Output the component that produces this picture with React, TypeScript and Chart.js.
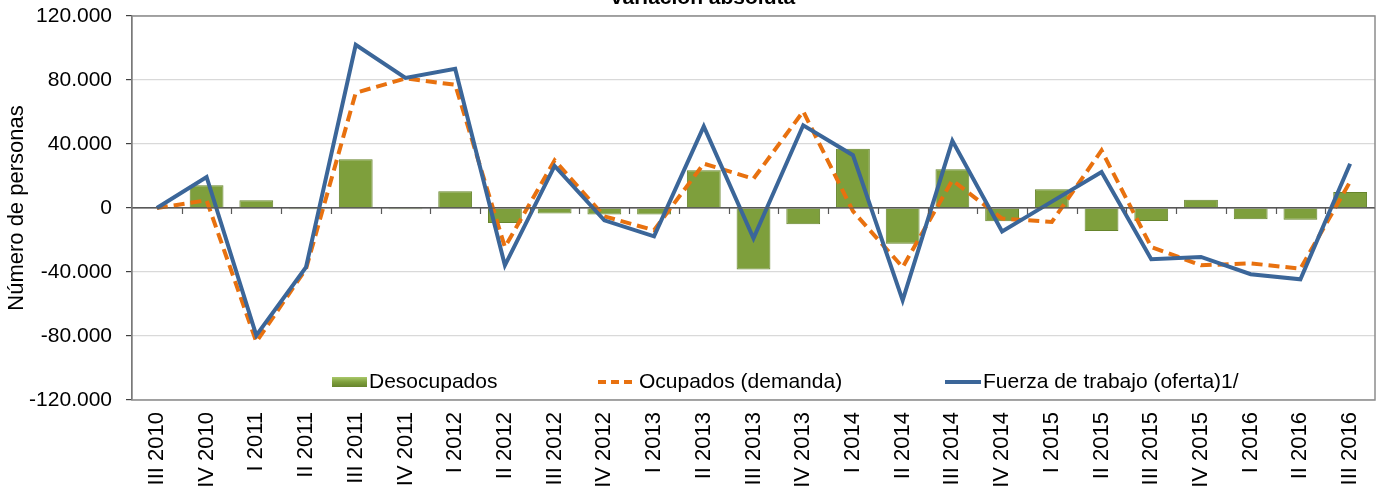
import React, { useEffect, useRef } from "react";
import { Chart, registerables } from "chart.js";

Chart.register(...registerables);

const categories = [
  "III 2010", "IV 2010", "I 2011", "II 2011", "III 2011", "IV 2011",
  "I 2012", "II 2012", "III 2012", "IV 2012", "I 2013", "II 2013",
  "III 2013", "IV 2013", "I 2014", "II 2014", "III 2014", "IV 2014",
  "I 2015", "II 2015", "III 2015", "IV 2015", "I 2016", "II 2016", "III 2016",
];

const desocupados = [
  0, 14200, 4800, -800, 30400, -800, 10400, -9400, -3500, -4000, -4000, 23600,
  -38500, -10200, 37000, -22300, 24200, -8300, 11700, -14400, -8100, 5200, -7100, -7300, 10000,
];

const ocupados = [
  0, 4800, -83700, -38000, 72000, 81000, 77000, -24400, 29800, -5200, -13900, 27700,
  18300, 60400, -2000, -37000, 17300, -6600, -8700, 36000, -24400, -35800, -34600, -37900, 16500,
];

const fuerzaTrabajo = [
  0, 19400, -79600, -37000, 102000, 81300, 87000, -35800, 26300, -7700, -17700, 51000,
  -19000, 51700, 33000, -57700, 42000, -14600, 4000, 22500, -32000, -30600, -41400, -44600, 27700,
];

const Y_MIN = -120000;
const Y_MAX = 120000;
const Y_STEP = 40000;

const seriesLabels = ["Desocupados", "Ocupados (demanda)", "Fuerza de trabajo (oferta)1/"];
const titleText = "variación absoluta";
const yTitle = "Número de personas";

const FONT = "'Liberation Sans', Arial, sans-serif";
const GREEN = "#7E9F3C";
const GREEN_DARK = "#66842C";
const ORANGE = "#E8710F";
const BLUE = "#3B6699";

function fmt(v: number): string {
  const s = Math.abs(v).toFixed(0);
  const withDots = s.replace(/\B(?=(\d{3})+(?!\d))/g, ".");
  return (v < 0 ? "-" : "") + withDots;
}

const framePlugin = {
  id: "frame",
  beforeDatasetsDraw(chart: any) {
    const { ctx, chartArea } = chart;
    ctx.save();
    ctx.strokeStyle = "#8C8C8C";
    ctx.lineWidth = 1.5;
    ctx.strokeRect(chartArea.left, chartArea.top, chartArea.right - chartArea.left, chartArea.bottom - chartArea.top);
    ctx.restore();
  },
  afterDatasetsDraw(chart: any) {
    const { ctx, chartArea, scales } = chart;
    const x = scales.x;
    const y = scales.y;
    const y0 = y.getPixelForValue(0);
    const n = chart.data.labels.length;
    const w = (chartArea.right - chartArea.left) / n;
    ctx.save();
    ctx.strokeStyle = "#595959";
    ctx.lineWidth = 1.2;
    ctx.beginPath();
    ctx.moveTo(chartArea.left, y0);
    ctx.lineTo(chartArea.right, y0);
    ctx.stroke();
    ctx.beginPath();
    for (let i = 1; i < n; i++) {
      const px = Math.round(x.left + i * w) + 0.5;
      ctx.moveTo(px, y0);
      ctx.lineTo(px, y0 + 6);
    }
    ctx.stroke();
    ctx.restore();
  },
  afterDraw(chart: any) {
    const { ctx } = chart;
    ctx.save();
    // title (partly cut off at the top, as in the reference)
    ctx.fillStyle = "#000";
    ctx.font = `bold 21px ${FONT}`;
    ctx.textAlign = "center";
    ctx.textBaseline = "alphabetic";
    ctx.fillText(titleText, 703, 4);

    // legend inside the plot area
    const ly = 382;
    ctx.font = `21px ${FONT}`;
    ctx.textAlign = "left";
    ctx.textBaseline = "middle";
    const labels = chart.data.datasets.map((d: any) => d.label);

    // bar swatch
    const g = ctx.createLinearGradient(0, ly - 5, 0, ly + 5);
    g.addColorStop(0, "#A9C86A");
    g.addColorStop(0.5, GREEN);
    g.addColorStop(1, GREEN_DARK);
    ctx.fillStyle = g;
    ctx.fillRect(332, ly - 5, 35, 10);
    ctx.fillStyle = "#000";
    ctx.fillText(labels[0], 369, ly);

    // dashed orange
    ctx.strokeStyle = ORANGE;
    ctx.lineWidth = 4;
    ctx.setLineDash([8, 5]);
    ctx.beginPath();
    ctx.moveTo(598, ly);
    ctx.lineTo(637, ly);
    ctx.stroke();
    ctx.setLineDash([]);
    ctx.fillText(labels[1], 639, ly);

    // solid blue
    ctx.strokeStyle = BLUE;
    ctx.beginPath();
    ctx.moveTo(945, ly);
    ctx.lineTo(981, ly);
    ctx.stroke();
    ctx.fillText(labels[2], 983, ly);
    ctx.restore();
  },
};

export default function App() {
  const canvasRef = useRef<HTMLCanvasElement | null>(null);

  useEffect(() => {
    const canvas = canvasRef.current;
    if (!canvas) return;
    const chart = new Chart(canvas, {
      type: "bar",
      data: {
        labels: categories,
        datasets: [
          {
            type: "bar",
            label: seriesLabels[0],
            data: desocupados,
            backgroundColor: GREEN,
            borderColor: GREEN_DARK,
            borderWidth: 1,
            barPercentage: 0.68,
            categoryPercentage: 1,
            order: 3,
          },
          {
            type: "line",
            label: seriesLabels[1],
            data: ocupados,
            borderColor: ORANGE,
            backgroundColor: ORANGE,
            borderWidth: 4,
            borderDash: [11, 6],
            pointRadius: 0,
            tension: 0,
            fill: false,
            order: 2,
          },
          {
            type: "line",
            label: seriesLabels[2],
            data: fuerzaTrabajo,
            borderColor: BLUE,
            backgroundColor: BLUE,
            borderWidth: 4,
            pointRadius: 0,
            tension: 0,
            fill: false,
            order: 1,
          },
        ],
      },
      options: {
        responsive: false,
        animation: false,
        layout: { padding: { top: 16, right: 3, left: 0, bottom: 0 } },
        plugins: {
          legend: { display: false },
          title: { display: false },
          tooltip: { enabled: false },
        },
        scales: {
          x: {
            offset: true,
            grid: { display: false, drawTicks: false },
            border: { display: false },
            ticks: {
              autoSkip: false,
              minRotation: 90,
              maxRotation: 90,
              padding: 12,
              color: "#000",
              font: { family: FONT, size: 22 },
            },
            afterFit(scale: any) {
              scale.height = 91;
              scale.paddingLeft = 0;
              scale.paddingRight = 0;
            },
          },
          y: {
            min: Y_MIN,
            max: Y_MAX,
            border: { display: true, color: "#404040", width: 1.2 },
            grid: {
              color: (ctx: any) => (ctx.tick && ctx.tick.value === 0 ? "#595959" : "#D9D9D9"),
              lineWidth: 1.2,
              tickLength: 6,
              tickColor: "#404040",
            },
            ticks: {
              stepSize: Y_STEP,
              padding: 14,
              color: "#000",
              font: { family: FONT, size: 21 },
              callback: (v: any) => fmt(Number(v)),
            },
            title: {
              display: true,
              text: yTitle,
              color: "#000",
              font: { family: FONT, size: 22 },
              padding: { top: 4, bottom: 0 },
            },
            afterFit(scale: any) {
              scale.width = 132;
              scale.paddingTop = 0;
              scale.paddingBottom = 0;
            },
          },
        },
      },
      plugins: [framePlugin],
    } as any);
    return () => chart.destroy();
  }, []);

  return (
    <div style={{ position: "absolute", left: 0, top: 0, width: 1378, height: 491, background: "#fff" }}>
      <canvas ref={canvasRef} width={1378} height={491} style={{ display: "block" }} />
    </div>
  );
}
